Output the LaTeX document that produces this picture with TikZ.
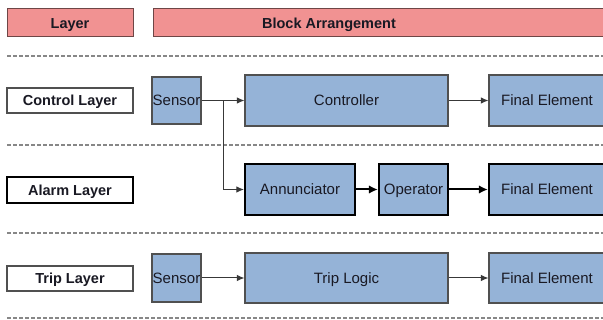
\documentclass[tikz,border=0pt]{standalone}
\usepackage{fontspec}
\setmainfont{Liberation Sans}
\usetikzlibrary{arrows.meta}
\definecolor{pinkfill}{RGB}{241,146,146}
\definecolor{pinkedge}{RGB}{110,70,70}
\definecolor{bluefill}{RGB}{149,179,215}
\definecolor{edgegray}{RGB}{80,80,80}
\definecolor{dashgray}{RGB}{135,135,135}
\definecolor{txt}{RGB}{25,25,35}
\begin{document}
\begin{tikzpicture}[x=1pt,y=-1pt,
  hdr/.style={draw=pinkedge, line width=1pt, fill=pinkfill, inner sep=0pt, text=txt,
    text height=10.4pt, text depth=0pt,
    font=\fontsize{14.5}{17}\selectfont\bfseries},
  lbl/.style={draw=edgegray, line width=1.3pt, fill=white, inner sep=0pt, text=txt,
    text height=10.4pt, text depth=0pt,
    minimum width=126pt, font=\fontsize{14.5}{17}\selectfont\bfseries},
  lblthick/.style={lbl, draw=black, line width=2.2pt},
  blk/.style={draw=edgegray, line width=1.2pt, fill=bluefill, inner sep=0pt, text=txt,
    text height=10.7pt, text depth=0pt,
    font=\fontsize{15}{18}\selectfont},
  blkthick/.style={blk, draw=black, line width=2.2pt},
  sep/.style={draw=dashgray, line width=1.3pt, dash pattern=on 4pt off 2pt},
  conn/.style={draw=edgegray!70!black, line width=1pt, -{Latex[length=7.5pt,width=6.5pt]}},
  connthick/.style={draw=black, line width=2pt, -{Latex[length=9pt,width=8.5pt]}}
]
\useasboundingbox[fill=white] (0,0) rectangle (603,320);

% header
\node[hdr, minimum width=126pt, minimum height=28pt] (hlayer) at (70,23) {Layer};
\node[hdr, minimum width=452pt, minimum height=28pt] (hblock) at (379,23) {};
\node[text=txt, inner sep=0pt, text height=10.4pt, text depth=0pt,
  font=\fontsize{14.5}{17}\selectfont\bfseries] (hblocktxt) at (329,23) {Block Arrangement};

% separators
\coordinate (s1a) at (7,56);  \coordinate (s1b) at (603,56);
\coordinate (s2a) at (7,145); \coordinate (s2b) at (603,145);
\coordinate (s3a) at (7,233); \coordinate (s3b) at (603,233);
\coordinate (s4a) at (7,318); \coordinate (s4b) at (603,318);
\draw[sep] (s1a) -- (s1b);
\draw[sep] (s2a) -- (s2b);
\draw[sep] (s3a) -- (s3b);
\draw[sep] (s4a) -- (s4b);

% control layer
\node[lbl, minimum height=25pt] (lctrl) at (70,100.5) {Control Layer};
\node[blk, minimum width=49pt, minimum height=47pt] (sens1) at (176.5,100.5) {Sensor};
\node[blk, minimum width=203pt, minimum height=51pt] (ctrl) at (346.5,100.5) {Controller};
\node[blk, minimum width=116pt, minimum height=51pt] (fe1) at (547,100.5) {Final Element};

% alarm layer
\node[lblthick, minimum height=26pt] (lalarm) at (70,190) {Alarm Layer};
\node[blkthick, minimum width=110pt, minimum height=51pt] (ann) at (300,189.5) {Annunciator};
\node[blkthick, minimum width=69pt, minimum height=51pt] (oper) at (413.5,189.5) {Operator};
\node[blkthick, minimum width=116pt, minimum height=51pt] (fe2) at (547,189.5) {Final Element};

% trip layer
\node[lbl, minimum height=25pt] (ltrip) at (70,278.5) {Trip Layer};
\node[blk, minimum width=49pt, minimum height=48pt] (sens3) at (176.5,278) {Sensor};
\node[blk, minimum width=203pt, minimum height=50pt] (trip) at (346.5,278) {Trip Logic};
\node[blk, minimum width=116pt, minimum height=50pt] (fe3) at (547,278) {Final Element};

% connectors
\coordinate (br) at (223,100.5);
\draw[conn] (sens1.east) -- (ctrl.west);
\draw[conn] (br) |- (ann.west);
\draw[conn] (ctrl.east) -- (fe1.west);
\draw[connthick] (ann.east) -- (oper.west);
\draw[connthick] (oper.east) -- (fe2.west);
\draw[conn] (sens3.east) -- (trip.west);
\draw[conn] (trip.east) -- (fe3.west);
\end{tikzpicture}
\end{document}
